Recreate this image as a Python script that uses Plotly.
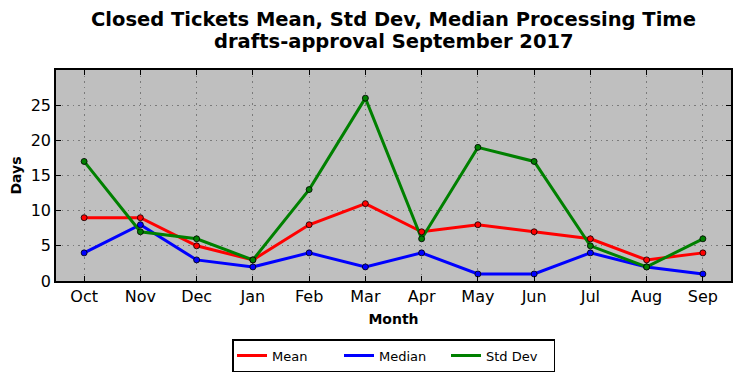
import plotly.graph_objects as go

months = ["Oct", "Nov", "Dec", "Jan", "Feb", "Mar", "Apr", "May", "Jun", "Jul", "Aug", "Sep"]
mean_days = [9, 9, 5, 3, 8, 11, 7, 8, 7, 6, 3, 4]
median_days = [4, 8, 3, 2, 4, 2, 4, 1, 1, 4, 2, 1]
std_days = [17, 7, 6, 3, 13, 26, 6, 19, 17, 5, 2, 6]
y_ticks = [0, 5, 10, 15, 20, 25]
title_lines = ["Closed Tickets Mean, Std Dev, Median Processing Time", "drafts-approval September 2017"]

series = [("Mean", mean_days, "#ff0000"), ("Median", median_days, "#0000ff"), ("Std Dev", std_days, "#008000")]

fig = go.Figure()
x_idx = list(range(len(months)))
for name, vals, col in series:
    fig.add_trace(go.Scatter(x=x_idx, y=vals, mode="lines", name=name,
                             line=dict(color=col, width=3), legendgroup=name))
for name, vals, col in series:
    fig.add_trace(go.Scatter(x=x_idx, y=vals, mode="markers", name=name, showlegend=False,
                             legendgroup=name,
                             marker=dict(color=col, size=6, line=dict(color="black", width=0.8))))

font = "DejaVu Sans"
for line, yp in zip(title_lines, [1.2417, 1.1374]):
    fig.add_annotation(text="<b>" + line + "</b>", xref="paper", yref="paper", x=0.5, y=yp,
                       xanchor="center", yanchor="middle", showarrow=False,
                       font=dict(size=19.5, family=font, color="black"))

grid_style = dict(showgrid=True, gridcolor="#7a7a7a", griddash="1.5px,4px", gridwidth=1)

fig.update_layout(
    width=741, height=378,
    margin=dict(l=56, r=10, t=70, b=97),
    paper_bgcolor="white", plot_bgcolor="#bfbfbf",
    font=dict(family=font, color="black"),
    showlegend=True,
    legend=dict(orientation="h", x=0.5, xanchor="center", xref="paper",
                yref="container", y=1 - 339 / 378, yanchor="top",
                bordercolor="black", borderwidth=1.5, bgcolor="white",
                font=dict(size=13, family=font), entrywidth=62, itemwidth=30),
    xaxis=dict(range=[-0.5, 11.5], tickmode="array", tickvals=x_idx, ticktext=months,
               ticks="inside", ticklen=5, tickcolor="black", mirror="ticks",
               showline=True, linecolor="black", linewidth=1.5, automargin=False,
               tickfont=dict(size=16, family=font), zeroline=False, **grid_style,
               title=dict(text="<b>Month</b>", font=dict(size=14, family=font), standoff=9)),
    yaxis=dict(range=[0, 30], tickmode="array", tickvals=y_ticks,
               ticks="inside", ticklen=5, tickcolor="black", mirror="ticks",
               showline=True, linecolor="black", linewidth=1.5, automargin=False,
               tickfont=dict(size=16, family=font), zeroline=False, **grid_style,
               title=dict(text="<b>Days</b>", font=dict(size=14, family=font), standoff=6)),
)

fig.write_html("out.html", post_script="document.body.style.margin='0';",
               config={"displayModeBar": False})
